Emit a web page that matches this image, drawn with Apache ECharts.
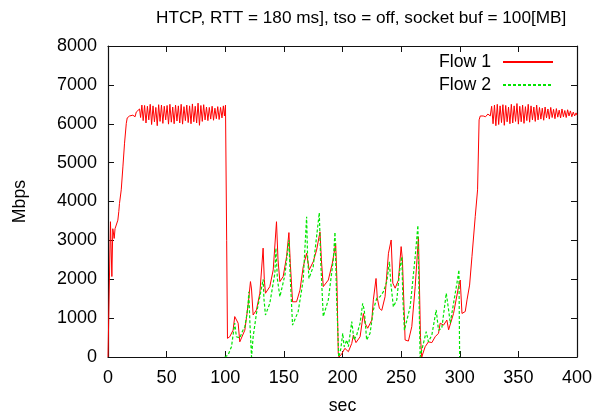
<!DOCTYPE html>
<html>
<head>
<meta charset="utf-8">
<script src="https://cdn.jsdelivr.net/npm/echarts@6/dist/echarts.min.js"></script>
<style>html,body{margin:0;padding:0;background:#fff;}#c{width:604px;height:414px;}</style>
</head>
<body>
<div id="c"></div>
<script>
const titleText = 'HTCP, RTT = 180 ms], tso = off, socket buf = 100[MB]';
const xName = 'sec';
const yName = 'Mbps';
const seriesNames = ['Flow 1', 'Flow 2'];

// Flow 1: [sec, Mbps]
const flow1 = [
  [0,0],[0.7,0],[2.1,3480],[3.3,2070],[4.1,3300],[5.3,3050],[6.0,3300],[7.5,3260],[8.4,3520],[9.2,3740],[9.8,3950],[11.3,4300],
  [12.7,4890],[14.1,5500],[15.6,6010],[16.4,6150],[18.4,6200],[19.8,6150],[21.2,6220],[23.1,6180],[24.1,6300],[25.5,6260],[26.9,6380],[27.8,6160],
  [28.9,6480],[30.0,6080],[31.2,6470],[32.4,6020],[33.6,6450],[34.8,6100],[36.0,6500],[37.2,5980],[38.4,6460],[39.6,6050],
  [40.8,6420],[42.0,5950],[43.2,6490],[44.4,6060],[45.6,6480],[46.8,6010],[48.0,6450],[49.2,6100],[50.4,6470],[51.6,5990],
  [52.8,6500],[54.0,6040],[55.2,6430],[56.4,6000],[57.6,6480],[58.8,6070],[60.0,6460],[61.2,6020],[62.4,6500],[63.6,5990],
  [64.8,6440],[66.0,6080],[67.2,6480],[68.4,6030],[69.6,6460],[70.8,6000],[72.0,6510],[73.2,6050],[74.4,6450],[75.6,6020],
  [76.8,6530],[78.0,5960],[79.2,6470],[80.4,6060],[81.6,6490],[82.8,6100],[84.0,6430],[85.2,6080],[86.4,6420],[87.6,6120],
  [88.8,6450],[90.0,6090],[91.2,6400],[92.4,6130],[93.6,6440],[94.8,6110],[96.0,6420],[97.2,6150],[98.4,6460],[99.3,6200],
  [100.2,6480],[101.2,3000],[101.9,480],[103.8,520],[106.7,690],[108.1,1040],[109.5,1080],[111.0,870],[112.4,390],[113.8,350],
  [116.7,690],[119.5,1340],[121.5,1940],[122.4,1750],[123.8,1080],[126.6,1210],[129.5,1640],[132.3,2800],[133.3,2000],[134.3,1640],
  [138.0,1810],[140.9,2240],[143.7,3480],[145.0,2500],[146.6,1940],[149.4,2070],[152.3,2580],[154.3,3200],[155.5,2400],[157.4,1420],
  [160.8,1420],[163.7,1720],[166.5,2320],[169.4,2670],[171.6,2240],[175.0,2450],[177.9,2750],[180.8,3220],[182.0,2500],[183.6,1810],
  [187.9,1980],[191.3,2410],[194.2,2920],[195.2,2000],[196.4,95],[197.0,0],[199.3,77],[202.0,223],[205.0,137],[207.9,350],
  [209.3,565],[211.5,370],[215.0,520],[217.8,1120],[219.2,870],[221.5,740],[225.0,950],[226.3,1470],[228.6,2020],[229.7,1510],
  [231.5,1250],[233.5,1200],[236.3,1550],[239.2,2670],[241.5,3010],[242.9,1900],[244.9,1770],[247.7,1980],[250.0,2840],[251.1,2500],
  [253.4,437],[256.2,410],[259.1,780],[262.0,1810],[264.8,3090],[265.4,3140],[266.5,500],[267.6,0],[270.5,265],[273.3,390],
  [276.2,370],[279.0,520],[281.9,610],[283.3,870],[286.2,820],[289.0,950],[290.5,700],[291.9,690],[294.7,1120],[299.0,1810],
  [300.4,1980],[301.9,1120],[304.7,1170],[306.2,1470],[307.6,1510],[308.4,1850],[310.4,2580],[313.2,3610],[315.2,4300],[316.5,6100],
  [317.5,6200],[320.0,6200],[322.0,6180],[324.0,6250],[326.0,6200],
  [327.2,6450],[328.4,6000],[329.6,6480],[330.8,5950],[332.0,6500],[333.2,5980],[334.4,6460],[335.6,6030],[336.8,6490],[338.0,5960],
  [339.2,6470],[340.4,6050],[341.6,6430],[342.8,6000],[344.0,6500],[345.2,6020],[346.4,6460],[347.6,6060],[348.8,6520],[350.0,5990],
  [351.2,6450],[352.4,6050],[353.6,6480],[354.8,6010],[356.0,6440],[357.2,6080],[358.4,6500],[359.6,6040],[360.8,6460],[362.0,6100],
  [363.2,6430],[364.4,6060],[365.6,6480],[366.8,6100],[368.0,6420],[369.2,6120],[370.4,6400],[371.6,6090],[372.8,6430],[374.0,6150],
  [375.2,6380],[376.4,6120],[377.6,6420],[378.8,6160],[380.0,6370],[381.2,6130],[382.4,6390],[383.6,6170],[384.8,6350],[386.0,6150],
  [387.2,6380],[388.4,6180],[389.6,6340],[390.8,6160],[392.0,6360],[393.2,6200],[394.4,6330],[395.6,6180],[396.8,6300],[398.0,6200],
  [399.2,6280],[400.0,6220]
];

// Flow 2: [sec, Mbps]
const flow2 = [
  [99.6,0],[102.4,50],[105.3,265],[108.1,870],[109.5,520],[112.4,490],[114.5,650],[116.7,780],[118.5,1100],[119.5,1380],[120.1,1680],
  [121.0,900],[122.4,0],[123.8,520],[126.6,1120],[129.5,1550],[132.3,2000],[133.0,1500],[134.3,1080],[138.0,1380],[142.3,2150],
  [143.2,2800],[144.5,2000],[146.6,1550],[150.9,2110],[154.3,3010],[155.5,2000],[157.4,820],[162.2,1170],[166.5,1980],[169.4,3610],
  [170.2,2600],[171.4,2020],[175.0,2320],[180.2,3710],[181.5,2400],[183.6,1040],[187.9,1470],[192.1,2490],[193.6,3210],[195.0,1500],
  [196.8,0],[198.5,200],[200.2,610],[201.4,265],[203.6,437],[205.0,265],[207.9,910],[209.8,437],[212.1,565],[215.0,870],
  [217.2,1380],[218.6,1200],[220.6,437],[223.5,610],[226.3,1210],[229.2,1510],[232.0,1550],[234.9,1680],[237.8,1940],[240.0,2450],
  [241.2,1900],[243.4,1290],[246.3,1470],[249.1,2320],[250.6,2580],[251.5,1500],[252.8,690],[257.7,1290],[262.0,2580],[264.3,3390],
  [265.3,1500],[266.2,0],[269.0,350],[271.4,650],[273.3,390],[276.2,565],[279.9,1210],[281.9,690],[284.7,740],[288.5,1640],
  [290.5,1210],[291.9,870],[294.7,1380],[297.6,1900],[299.3,2240],[299.9,0]
];

const xMin = 0, xMax = 400, xStep = 50;
const yMin = 0, yMax = 8000, yStep = 1000;

const FONT = '"Liberation Sans", Arial, sans-serif';
const FS_TITLE = 17.2, FS_TICK = 18, FS_LEG = 17.7;
const chart = echarts.init(document.getElementById('c'), null, {renderer: 'canvas'});
const axisLine = {show: true, onZero: false, lineStyle: {color: '#111', width: 1.2}};
const axisTick = {show: true, inside: true, length: 6, lineStyle: {color: '#111', width: 1}};
chart.setOption({
  animation: false,
  backgroundColor: '#fff',
  title: {
    text: titleText, left: 151, top: 5,
    textStyle: {fontFamily: FONT, fontSize: FS_TITLE, fontWeight: 'normal', color: '#000'}
  },
  legend: {
    orient: 'vertical', right: 50, top: 53, align: 'right', padding: 0,
    itemWidth: 50, itemHeight: 14, itemGap: 5,
    itemStyle: {opacity: 0},
    textStyle: {fontFamily: FONT, fontSize: FS_LEG, color: '#000', padding: [0, 7, 0, 0]},
    data: seriesNames
  },
  grid: {left: 108, right: 27, top: 46, bottom: 57, containLabel: false, outerBoundsMode: 'none'},
  xAxis: [{
    type: 'value', min: xMin, max: xMax, interval: xStep,
    name: xName, nameLocation: 'middle', nameGap: 40,
    nameTextStyle: {fontFamily: FONT, fontSize: FS_LEG, color: '#000'},
    axisLine, axisTick, splitLine: {show: false},
    axisLabel: {fontFamily: FONT, fontSize: FS_TICK, color: '#000', margin: 12, formatter: v => String(v)}
  }, {
    type: 'value', min: xMin, max: xMax, interval: xStep, position: 'top',
    axisLine, axisTick, splitLine: {show: false}, axisLabel: {show: false}
  }],
  yAxis: [{
    type: 'value', min: yMin, max: yMax, interval: yStep,
    name: yName, nameLocation: 'middle', nameGap: 79, nameRotate: 90,
    nameTextStyle: {fontFamily: FONT, fontSize: FS_LEG, color: '#000'},
    axisLine, axisTick, splitLine: {show: false},
    axisLabel: {fontFamily: FONT, fontSize: FS_TICK, color: '#000', margin: 11, formatter: v => String(v)}
  }, {
    type: 'value', min: yMin, max: yMax, interval: yStep, position: 'right',
    axisLine, axisTick, splitLine: {show: false}, axisLabel: {show: false}
  }],
  series: [{
    name: seriesNames[0], type: 'line', data: flow1, symbol: 'none', showSymbol: false,
    lineStyle: {color: '#ff0000', width: 1}, itemStyle: {color: '#ff0000'}, z: 3
  }, {
    name: seriesNames[1], type: 'line', data: flow2, symbol: 'none', showSymbol: false,
    lineStyle: {color: '#00e600', width: 1.2, type: [3, 2]}, itemStyle: {color: '#00e600'}, z: 4
  }]
});
</script>
</body>
</html>
